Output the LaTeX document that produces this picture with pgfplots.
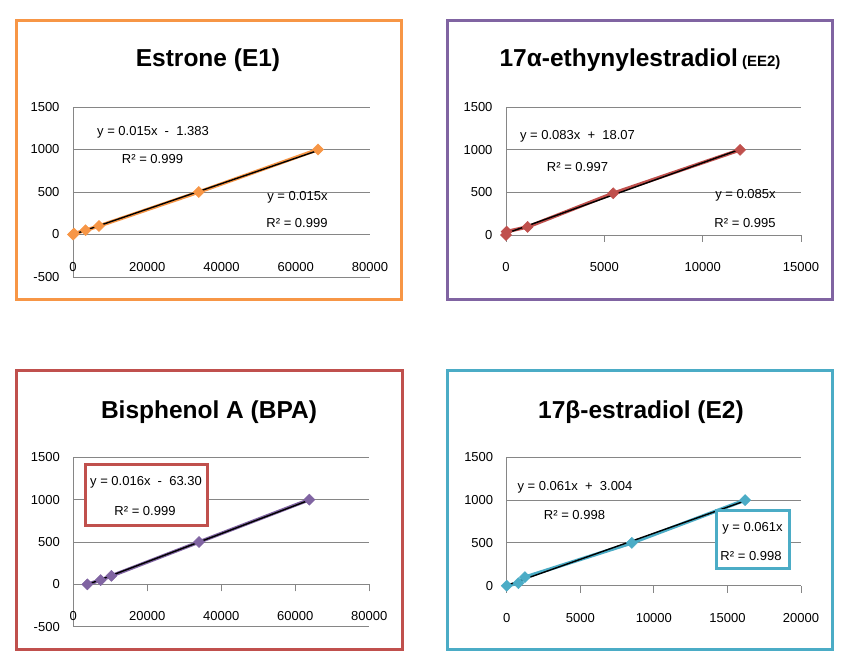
\documentclass[border=0pt]{standalone}
\usepackage{fontspec}
\setmainfont{Liberation Sans}
\usepackage{pgfplots}
\pgfplotsset{compat=1.18}
\definecolor{xorange}{HTML}{F79646}
\definecolor{xpurple}{HTML}{8064A2}
\definecolor{xred}{HTML}{C0504D}
\definecolor{xteal}{HTML}{4BACC6}
\definecolor{gridgray}{HTML}{868686}
\pgfplotsset{
 excel/.style={
  scale only axis,
  clip=false,
  axis y line=left,
  ymajorgrids,
  grid style={gridgray, line width=0.8pt},
  ymax=1500,
  xmin=0,
  tick label style={font=\fontsize{13}{15}\selectfont, black},
  /pgf/number format/assume math mode=true,
  /pgf/number format/1000 sep={},
  scaled x ticks=false,
  scaled y ticks=false,
  major tick length=7pt,
  ytick style={draw=none},
  xtick style={gridgray, line width=0.8pt},
  xticklabel style={yshift=-17pt},
  yticklabel style={xshift=-3pt},
  hide obscured x ticks=false,
  hide obscured y ticks=false,
 },
 fix/.style={axis line style={-, gridgray, line width=0.8pt}, tick align=outside, xtick align=outside},
 ser/.style={color=#1, line width=3.5pt, mark=square*, mark size=3.9pt, mark options={rotate=45, solid, line width=0.5pt}},
 trend/.style={black, line width=1.4pt, no marks},
}
\newcommand{\ttl}{\bfseries\fontsize{24.5}{29}\selectfont}
\newcommand{\lbl}{\fontsize{13}{15}\selectfont}
\begin{document}
\begin{tikzpicture}[x=1pt,y=1pt]
\fill[white] (0pt,0pt) rectangle (864pt,661pt);
\path[use as bounding box] (0pt,0pt) rectangle (864pt,661pt);

% ---------- Panel 1: Estrone (E1)
\draw[xorange, line width=3pt] (16.5pt,361.5pt) rectangle (401.5pt,640.5pt);
\node at (208pt,601pt) {\ttl Estrone (E1)};
\begin{axis}[excel, at={(73pt,384pt)}, anchor=south west, width=297pt, height=170pt,
  axis x line=middle, fix, ymin=-500, ytick={-500,0,500,1000,1500},
  xmax=80000, xtick={0,20000,40000,60000,80000}, xtick style={draw=none}]
\addplot[ser=xorange] coordinates {(0,0) (300,10) (3400,50) (7000,100) (33900,500) (66000,1000)};
\addplot[trend] coordinates {(0,-1.4) (66000,988.6)};
\end{axis}
\node[font=\lbl] at (153pt,529pt) {y = 0.015x \ - \ 1.383};
\node[font=\lbl] at (152.5pt,502pt) {R² = 0.999};
\node[font=\lbl] at (297.5pt,464pt) {y = 0.015x};
\node[font=\lbl] at (297pt,438pt) {R² = 0.999};

% ---------- Panel 2: 17a-ethynylestradiol (EE2)
\draw[xpurple, line width=3pt] (447.5pt,361.5pt) rectangle (832.5pt,640.5pt);
\node at (640pt,601pt) {\ttl 17α-ethynylestradiol\fontsize{15}{18}\selectfont\ (EE2)};
\begin{axis}[excel, at={(506pt,426pt)}, anchor=south west, width=295pt, height=127.7pt,
  axis x line=bottom, fix, ymin=0, ytick={0,500,1000,1500},
  xmax=15000, xtick={0,5000,10000,15000}]
\addplot[ser=xred] coordinates {(0,0) (30,40) (1100,95) (5450,490) (11900,1000)};
\addplot[trend] coordinates {(0,18) (11900,1006)};
\end{axis}
\node[font=\lbl] at (577.5pt,524.3pt) {y = 0.083x \ + \ 18.07};
\node[font=\lbl] at (577.5pt,494.3pt) {R² = 0.997};
\node[font=\lbl] at (745.5pt,465.3pt) {y = 0.085x};
\node[font=\lbl] at (745pt,437.7pt) {R² = 0.995};

% ---------- Panel 3: Bisphenol A (BPA)
\draw[xred, line width=3pt] (16.5pt,11.5pt) rectangle (402.5pt,290.5pt);
\node at (209pt,249.3pt) {\ttl Bisphenol A (BPA)};
\begin{axis}[excel, at={(73.3pt,34.3pt)}, anchor=south west, width=296pt, height=169.4pt,
  axis x line=middle, fix, ymin=-500, ytick={-500,0,500,1000,1500},
  xmax=80000, xtick={0,20000,40000,60000,80000}]
\addplot[ser=xpurple] coordinates {(3800,0) (7400,50) (10300,100) (34000,500) (63800,1000)};
\addplot[trend] coordinates {(3800,-3) (63800,995)};
\end{axis}
\draw[xred, line width=3pt, fill=white] (85.5pt,135.8pt) rectangle (207.5pt,196.8pt);
\node[font=\lbl] at (146pt,178.7pt) {y = 0.016x \ - \ 63.30};
\node[font=\lbl] at (145pt,150pt) {R² = 0.999};

% ---------- Panel 4: 17b-estradiol (E2)
\draw[xteal, line width=3pt] (447.5pt,11.5pt) rectangle (832.5pt,290.5pt);
\node at (641pt,249pt) {\ttl 17β-estradiol (E2)};
\begin{axis}[excel, at={(506.7pt,75.3pt)}, anchor=south west, width=294.3pt, height=128.4pt,
  axis x line=bottom, fix, ymin=0, ytick={0,500,1000,1500},
  xmax=20000, xtick={0,5000,10000,15000,20000}]
\addplot[ser=xteal] coordinates {(0,0) (800,30) (1240,100) (8500,500) (16200,1000)};
\addplot[trend] coordinates {(0,3) (16200,991)};
\end{axis}
\node[font=\lbl] at (575pt,173.3pt) {y = 0.061x \ + \ 3.004};
\node[font=\lbl] at (574.5pt,146pt) {R² = 0.998};
\draw[xteal, line width=3pt, fill=white] (716.5pt,92.5pt) rectangle (789.2pt,150.5pt);
\node[font=\lbl] at (752.5pt,132.7pt) {y = 0.061x};
\node[font=\lbl] at (751pt,105.3pt) {R² = 0.998};
\end{tikzpicture}
\end{document}
